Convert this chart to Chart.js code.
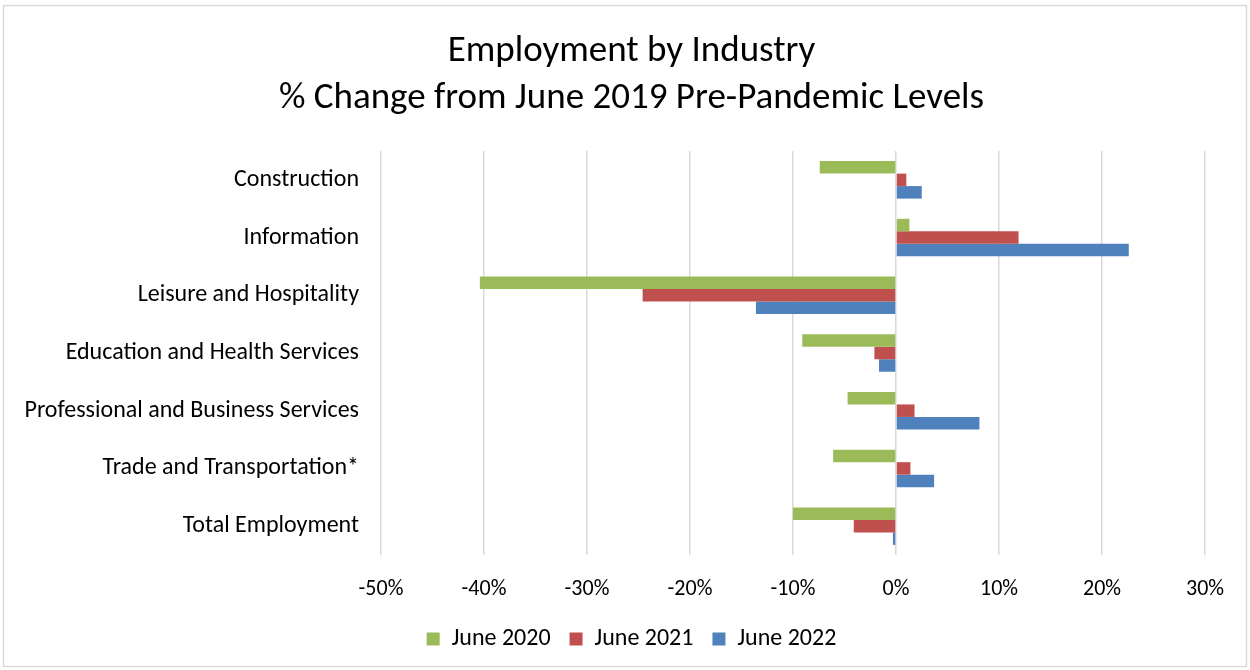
<!DOCTYPE html>
<html>
<head>
<meta charset="utf-8">
<script src="https://cdn.jsdelivr.net/npm/chart.js@4"></script>
<style>
  html, body { margin: 0; padding: 0; background: #fff; }
  #wrap { position: relative; width: 1250px; height: 670px; }
</style>
</head>
<body>
<div id="wrap"><canvas id="chart" width="1250" height="670"></canvas></div>
<script>
const industries = [
  'Construction',
  'Information',
  'Leisure and Hospitality',
  'Education and Health Services',
  'Professional and Business Services',
  'Trade and Transportation*',
  'Total Employment'
];
const june2020 = [-7.4, 1.3, -40.4, -9.1, -4.7, -6.1, -10.0];
const june2021 = [1.0, 11.9, -24.6, -2.1, 1.8, 1.4, -4.1];
const june2022 = [2.5, 22.6, -13.6, -1.65, 8.1, 3.7, -0.3];
const xTicks = [-50, -40, -30, -20, -10, 0, 10, 20, 30];

const FONT = 'Carlito, Calibri, Lato, sans-serif';

// Thin light-grey frame round the whole chart area
const framePlugin = {
  id: 'frame',
  afterDraw(chart) {
    const ctx = chart.ctx;
    ctx.save();
    ctx.strokeStyle = '#d9d9d9';
    ctx.lineWidth = 1.5;
    ctx.strokeRect(3.5, 5.5, chart.width - 7, chart.height - 9);
    ctx.restore();
  }
};

new Chart(document.getElementById('chart'), {
  type: 'bar',
  data: {
    labels: industries,
    datasets: [
      { label: 'June 2020', data: june2020, backgroundColor: '#9BBB59' },
      { label: 'June 2021', data: june2021, backgroundColor: '#C0504D' },
      { label: 'June 2022', data: june2022, backgroundColor: '#4F81BD' }
    ]
  },
  options: {
    indexAxis: 'y',
    responsive: false,
    animation: false,
    categoryPercentage: 0.65,
    barPercentage: 1.0,
    layout: { padding: { left: 13, right: 0, top: 0, bottom: 9 } },
    plugins: {
      title: {
        display: true,
        text: ['Employment by Industry', '% Change from June 2019 Pre-Pandemic Levels'],
        color: '#000',
        font: { family: FONT, size: 37, weight: 'normal', lineHeight: 1.27 },
        padding: { top: 28, bottom: 29 }
      },
      legend: {
        position: 'bottom',
        labels: {
          color: '#000',
          font: { family: FONT, size: 24 },
          boxWidth: 13,
          boxHeight: 13,
          padding: 19
        }
      },
      tooltip: { enabled: false }
    },
    scales: {
      x: {
        min: -50,
        max: 30,
        afterBuildTicks(scale) {
          scale.ticks = xTicks.map(v => ({ value: v }));
        },
        afterFit(scale) { scale.height = 53; },
        ticks: {
          color: '#000',
          font: { family: FONT, size: 22 },
          padding: 21,
          callback: v => v + '%'
        },
        grid: { color: '#d9d9d9', lineWidth: 1.5, drawTicks: false },
        border: { display: false }
      },
      y: {
        afterFit(scale) { scale.width = 368; },
        ticks: {
          color: '#000',
          font: { family: FONT, size: 24 },
          padding: 22
        },
        grid: { display: false, drawTicks: false },
        border: { display: false }
      },
      // empty right-hand margin beside the plot
      yRight: {
        type: 'category',
        position: 'right',
        afterFit(scale) { scale.width = 45; },
        ticks: { display: false },
        grid: { display: false, drawTicks: false },
        border: { display: false }
      }
    }
  },
  plugins: [framePlugin]
});
</script>
</body>
</html>
